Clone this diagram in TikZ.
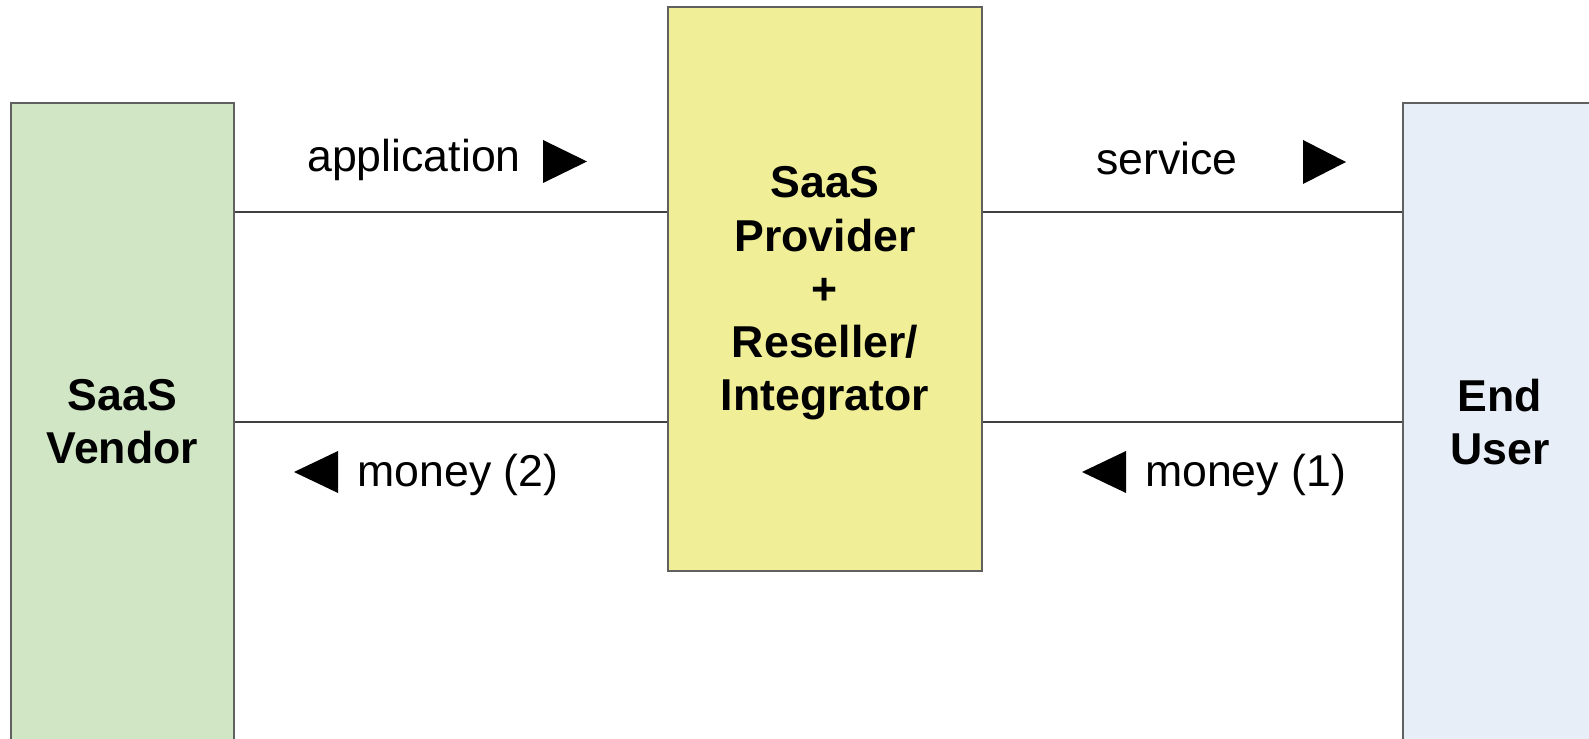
\documentclass[tikz,border=0pt]{standalone}
\usepackage{fontspec}
\setmainfont{Liberation Sans}
\usetikzlibrary{positioning}
\definecolor{VendorFill}{HTML}{D0E6C4}
\definecolor{ProviderFill}{HTML}{F0EE96}
\definecolor{UserFill}{HTML}{E8EEF7}
\definecolor{BoxFrame}{HTML}{606060}

\tikzset{
  party/.style={draw=BoxFrame, line width=1pt, inner sep=0pt},
  link/.style={draw=black!75, line width=0.6pt},
  flow/.style={font=\fontsize{25.4}{30}\selectfont},
  partytext/.style={font=\fontsize{25.4}{30.3}\selectfont\bfseries, align=center}
}

\begin{document}
\begin{tikzpicture}[x=0.02cm, y=-0.02cm]  % pixel grid, y downwards
  \useasboundingbox (0,0) rectangle (1589,739);
  \fill[white] (0,0) rectangle (1589,739);

  % the three parties
  \node[party, fill=VendorFill, minimum width=4.46cm, minimum height=13.14cm] (vendor) at (122.5,431.5) {};
  \node[party, fill=ProviderFill, minimum width=6.28cm, minimum height=11.28cm] (provider) at (825,289) {};
  \node[party, fill=UserFill, minimum width=3.88cm, minimum height=13.14cm] (user) at (1500,431.5) {};

  \node[partytext] (vendortext) at (122.5,422) {SaaS\\Vendor};
  \node[partytext] (providertext) at (825,293.5) {SaaS\\Provider\\+\\Reseller/\\Integrator};
  \node[partytext] (usertext) at (1500,422) {End\\User};

  % connecting lines
  \coordinate (upper) at (0,212);
  \coordinate (lower) at (0,422);
  \draw[link] (vendor.east |- upper) -- (provider.west |- upper);
  \draw[link] (provider.east |- upper) -- (user.west |- upper);
  \draw[link] (vendor.east |- lower) -- (provider.west |- lower);
  \draw[link] (provider.east |- lower) -- (user.west |- lower);

  % what flows where
  \node[flow] (app) at (414,160) {application};
  \node[flow] (serv) at (1167,159) {service};
  \node[flow] (pay2) at (458,475) {money (2)};
  \node[flow] (pay1) at (1245.5,475) {money (1)};

  \fill (543,140) -- (587,161.5) -- (543,183) -- cycle;
  \fill (1303,140) -- (1346,162) -- (1303,184) -- cycle;
  \fill (338,451) -- (294,472) -- (338,493) -- cycle;
  \fill (1126,451) -- (1082,472) -- (1126,493) -- cycle;
\end{tikzpicture}
\end{document}
